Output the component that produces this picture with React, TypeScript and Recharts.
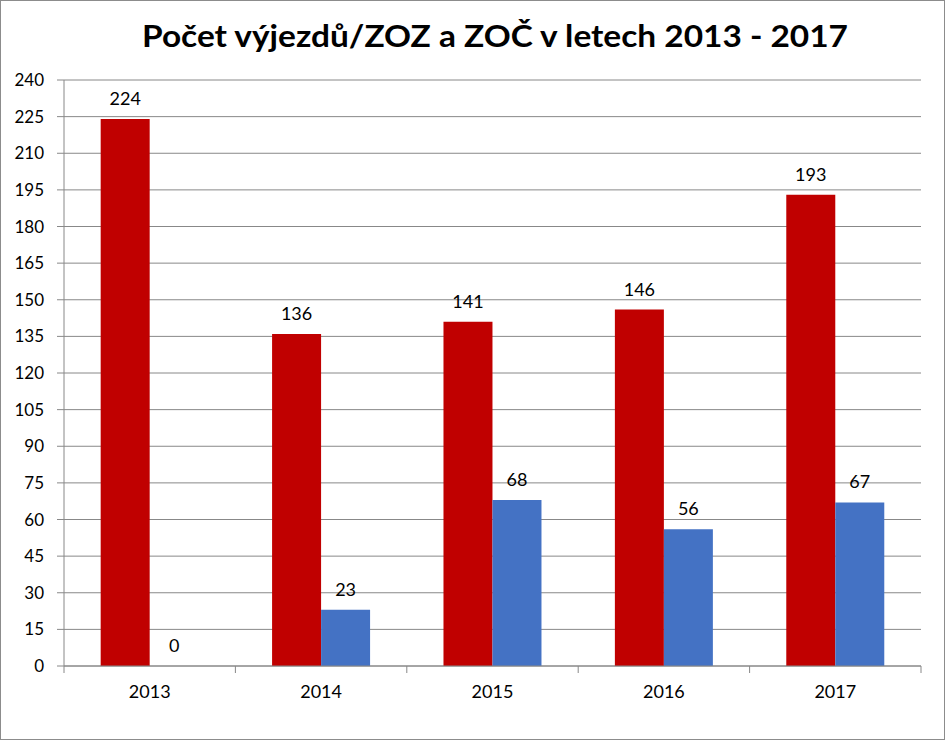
import React from 'react';
import { BarChart, Bar, XAxis, YAxis, CartesianGrid, LabelList } from 'recharts';

const years = ['2013', '2014', '2015', '2016', '2017'];
const vyjezdy = [224, 136, 141, 146, 193];
const zozZoc = [0, 23, 68, 56, 67];
const yTicks = [0, 15, 30, 45, 60, 75, 90, 105, 120, 135, 150, 165, 180, 195, 210, 225, 240];
const title = 'Počet výjezdů/ZOZ a ZOČ v letech 2013 - 2017';

const data = years.map((y, i) => ({ year: y, vyjezdy: vyjezdy[i], zoz: zozZoc[i] }));

const W = 945;
const H = 740;
const MARGIN = { top: 80, right: 24, bottom: 0, left: 0 };
const Y_W = 64;
const GRID = '#888888';
const FONT = 'Lato, "Open Sans", sans-serif';

const XTick = (props: any) => {
  const { x, y, payload, index, visibleTicksCount } = props;
  const plotW = typeof props.width === 'number' && props.width > 0 ? props.width : W - MARGIN.left - MARGIN.right - Y_W;
  const band = plotW / visibleTicksCount;
  const left = x - band / 2;
  const right = x + band / 2;
  return (
    <g>
      <line x1={left} x2={left} y1={y - 7} y2={y} stroke={GRID} />
      {index === visibleTicksCount - 1 && <line x1={right} x2={right} y1={y - 7} y2={y} stroke={GRID} />}
      <text x={x} y={y} dy={25} textAnchor="middle" fill="#000" fontSize={18} fontFamily={FONT}>
        {payload.value}
      </text>
    </g>
  );
};

const ValueLabel = (props: any) => {
  const { x, y, width, value } = props;
  if (x == null || y == null) return null;
  return (
    <text x={Number(x) + Number(width) / 2} y={Number(y) - 14} textAnchor="middle" fill="#000" fontSize={18} fontFamily={FONT}>
      {String(value)}
    </text>
  );
};

// Label for a zero-valued blue bar (Recharts draws no rectangle for it), placed next to the red bar of the same category
const ZeroLabel = (props: any) => {
  const { x, y, width, height, index } = props;
  if (x == null || y == null) return null;
  const v = zozZoc[index];
  if (v !== 0) return null;
  return (
    <text
      x={Number(x) + Number(width) * 1.5}
      y={Number(y) + Number(height) - 14}
      textAnchor="middle"
      fill="#000"
      fontSize={18}
      fontFamily={FONT}
    >
      {String(v)}
    </text>
  );
};

export default function App() {
  return (
    <div style={{ position: 'absolute', left: 0, top: 0, width: W, height: H, background: '#fff' }}>
      <BarChart
        width={W}
        height={H}
        data={data}
        margin={MARGIN}
        barGap={0}
        barCategoryGap="21.4%"
      >
        <CartesianGrid vertical={false} stroke={GRID} />
        <XAxis
          dataKey="year"
          height={74}
          axisLine={{ stroke: GRID }}
          tickLine={false}
          tickSize={7}
          tickMargin={0}
          tick={<XTick />}
          interval={0}
        />
        <YAxis
          domain={[0, 240]}
          ticks={yTicks}
          interval={0}
          width={Y_W}
          axisLine={{ stroke: GRID }}
          tickLine={{ stroke: GRID }}
          tickSize={7}
          tickMargin={13}
          tick={{ fill: '#000', fontSize: 17, fontFamily: FONT }}
        />
        <Bar dataKey="vyjezdy" name="Počet výjezdů" fill="#C00000" isAnimationActive={false}>
          <LabelList dataKey="vyjezdy" content={<ValueLabel />} />
          <LabelList dataKey="zoz" content={<ZeroLabel />} />
        </Bar>
        <Bar dataKey="zoz" name="ZOZ a ZOČ" fill="#4472C4" isAnimationActive={false}>
          <LabelList dataKey="zoz" content={<ValueLabel />} />
        </Bar>
      </BarChart>
      <svg width={W} height={70} style={{ position: 'absolute', left: 0, top: 0, pointerEvents: 'none' }}>
        <text
          x={142}
          y={47}
          textLength={706}
          lengthAdjust="spacingAndGlyphs"
          fontFamily={FONT}
          fontWeight="bold"
          fontSize={31}
          fill="#000"
        >
          {title}
        </text>
      </svg>
      <div
        style={{
          position: 'absolute',
          left: 0,
          top: 0,
          width: W,
          height: H,
          boxSizing: 'border-box',
          border: '1px solid #8c8c8c',
          pointerEvents: 'none',
        }}
      />
    </div>
  );
}
